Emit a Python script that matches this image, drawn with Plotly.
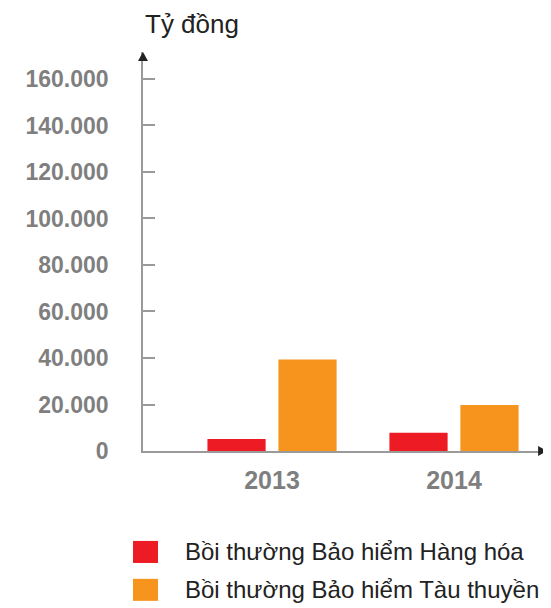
import plotly.graph_objects as go

years = ["2013", "2014"]
series_names = ["Bồi thường Bảo hiểm Hàng hóa", "Bồi thường Bảo hiểm Tàu thuyền"]
hang_hoa = [5200, 7900]
tau_thuyen = [39300, 19800]
colors = ["#ED1C24", "#F7941D"]
y_tickvals = [0, 20000, 40000, 60000, 80000, 100000, 120000, 140000, 160000]
y_ticktext = ["0", "20.000", "40.000", "60.000", "80.000", "100.000", "120.000", "140.000", "160.000"]
unit_label = "Tỷ đồng"

FONT = "Liberation Sans, Arial, Helvetica, sans-serif"
xpos = list(range(len(years)))

fig = go.Figure()
for name, vals, col in zip(series_names, [hang_hoa, tau_thuyen], colors):
    fig.add_trace(go.Bar(x=xpos, y=vals, name=name, marker=dict(color=col, line=dict(width=0)),
                         showlegend=False))

# page body has an 8px margin, so the figure is sized/offset to compensate
fig.update_layout(
    width=543, height=600,
    margin=dict(l=135, r=4, t=44, b=157),
    paper_bgcolor="white", plot_bgcolor="white",
    barmode="group", bargap=0.22, bargroupgap=0.18,
    font=dict(family=FONT),
)
fig.update_xaxes(range=[-0.709, 1.511], tickvals=xpos, ticktext=years,
                 showgrid=False, zeroline=False, showline=True, linecolor="#9a9a9a", linewidth=1.5,
                 ticks="", tickfont=dict(size=25, color="#7f7f7f", family=FONT, weight="bold"),
                 ticklabelstandoff=6)
fig.update_yaxes(range=[0, 171600], tickvals=y_tickvals, ticktext=y_ticktext,
                 showgrid=False, zeroline=False, showline=True, linecolor="#9a9a9a", linewidth=1.5,
                 ticks="inside", ticklen=12, tickcolor="#9a9a9a", tickwidth=1.5,
                 tickfont=dict(size=23, color="#7f7f7f", family=FONT, weight="bold"),
                 ticklabelstandoff=28)

# axis arrowheads
fig.add_shape(type="path", xref="paper", yref="paper",
              path="M 1.0 0 L 0.978 0.0125 L 0.978 -0.0125 Z",
              fillcolor="#222222", line=dict(width=0))
fig.add_shape(type="path", xref="paper", yref="paper",
              path="M 0 1.0 L 0.0124 0.9774 L -0.0124 0.9774 Z",
              fillcolor="#222222", line=dict(width=0))

# unit label
fig.add_annotation(x=0, y=1.07, xref="paper", yref="paper", text=unit_label, showarrow=False,
                   xanchor="left", yanchor="middle", font=dict(size=26, color="#222222", family=FONT))

# custom legend
rows_y = [-0.253, -0.348]
for name, col, ry in zip(series_names, colors, rows_y):
    fig.add_shape(type="rect", xref="paper", yref="paper",
                  x0=-0.0248, x1=0.0371, y0=ry - 0.0276, y1=ry + 0.0276,
                  fillcolor=col, line=dict(width=0))
    fig.add_annotation(x=0.099, y=ry, xref="paper", yref="paper", text=name, showarrow=False,
                       xanchor="left", yanchor="middle", font=dict(size=24, color="#222222", family=FONT))

fig.write_html("out.html")
